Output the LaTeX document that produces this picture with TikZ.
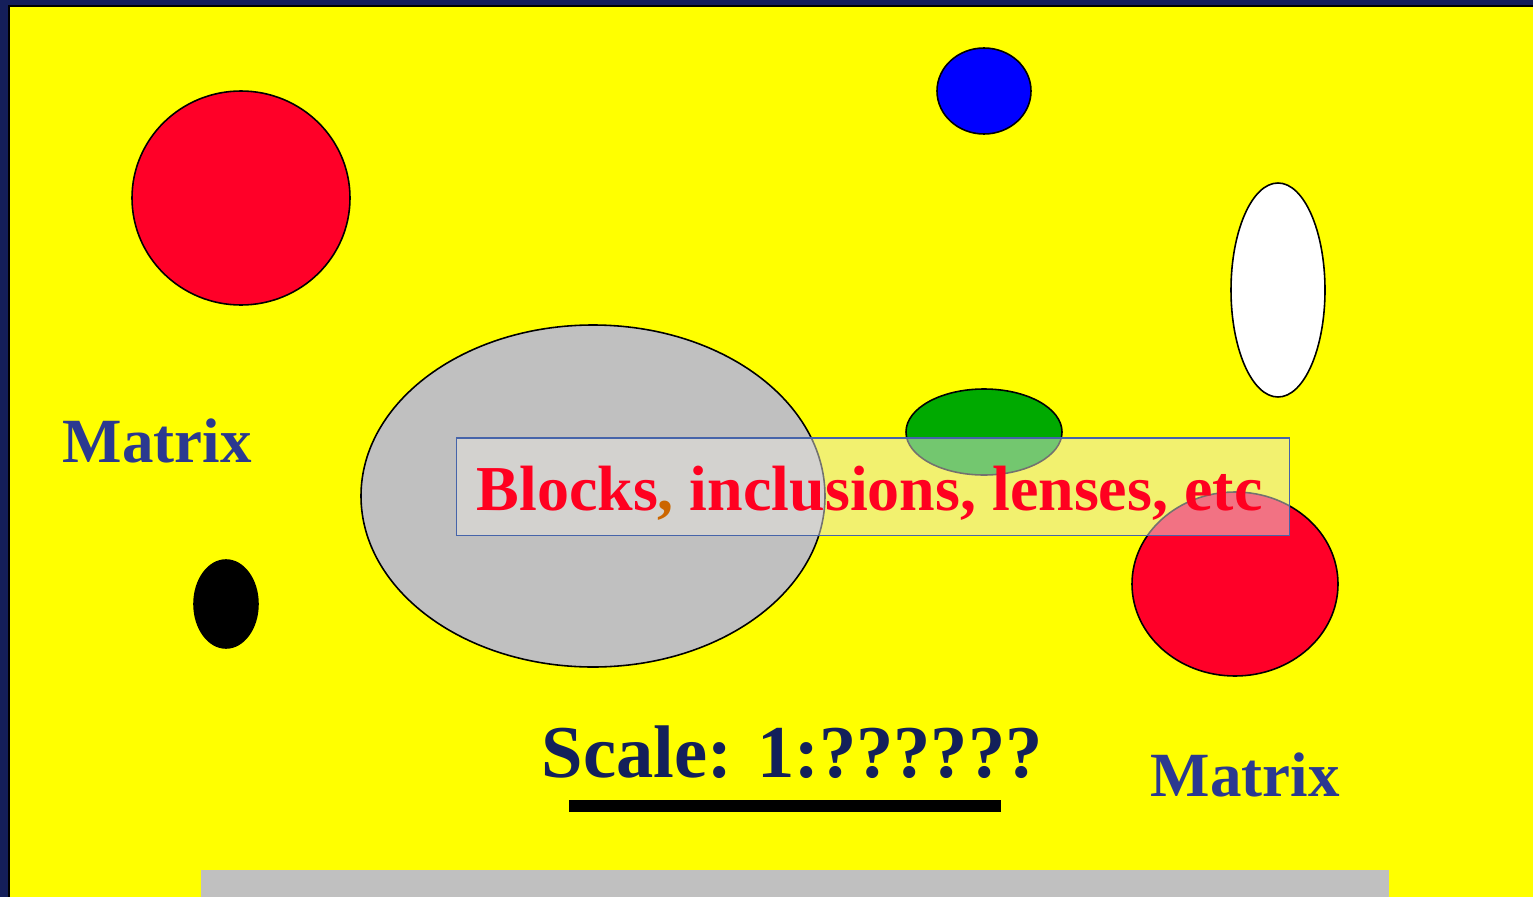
\documentclass[tikz,border=0pt]{standalone}
\usepackage{fontspec}
\setmainfont{Liberation Serif}
\usetikzlibrary{positioning}
\definecolor{slidenavy}{RGB}{20,30,90}
\definecolor{slideyellow}{RGB}{255,255,0}
\definecolor{matrixblue}{RGB}{43,57,144}
\definecolor{scalenavy}{RGB}{19,32,90}
\definecolor{grainred}{RGB}{255,0,40}
\definecolor{grainblue}{RGB}{0,0,255}
\definecolor{graingreen}{RGB}{0,170,0}
\definecolor{graingray}{RGB}{192,192,192}
\definecolor{labelred}{RGB}{255,0,32}
\definecolor{commaorange}{RGB}{204,102,0}
\definecolor{boxfill}{RGB}{230,229,222}
\definecolor{boxedge}{RGB}{70,100,170}
\tikzset{
  grain/.style={draw=black, line width=0.45pt},
  matrixlabel/.style={font=\fontsize{17.9}{20}\selectfont\bfseries, text=matrixblue, inner sep=0pt, anchor=base west},
  scalelabel/.style={font=\fontsize{21.2}{24}\selectfont\bfseries, text=scalenavy, inner sep=0pt, anchor=base west},
  labelbox/.style={draw=boxedge, line width=0.3pt, fill=boxfill, fill opacity=0.5, text opacity=1, text=labelred,
    font=\fontsize{18.2}{20}\selectfont\bfseries, text height=0.6cm, text depth=0.13cm,
    minimum width=8.32cm, minimum height=0.97cm, inner sep=0pt}
}
\begin{document}
\begin{tikzpicture}[x=0.01cm, y=-0.01cm]
  \useasboundingbox (0,0) rectangle (1533,897);
  \clip (0,0) rectangle (1533,897);
  % slide frame
  \fill[slidenavy] (0,0) rectangle (1533,897);
  \draw[fill=slideyellow, line width=0.6pt] (9,6) rectangle (1560,920);
  % grains in the matrix
  \draw[grain, fill=grainred] (241,198) ellipse [x radius=109, y radius=107];
  \draw[grain, fill=grainblue] (984,91) ellipse [x radius=47, y radius=43];
  \draw[grain, fill=white] (1278,290) ellipse [x radius=47, y radius=107];
  \draw[grain, fill=graingray] (593,496) ellipse [x radius=232, y radius=171];
  \draw[grain, fill=graingreen] (984,432) ellipse [x radius=78, y radius=43];
  \draw[grain, fill=grainred] (1235,584) ellipse [x radius=103, y radius=92];
  \draw[grain, fill=black] (226,604) ellipse [x radius=32, y radius=44];
  % labels
  \node[labelbox] (blocks) at (873,486.5) {Blocks{\color{commaorange},} inclusions, lenses, etc\hspace*{0.07cm}};
  \node[matrixlabel] (matrixleft) at (62,462) {Matrix};
  \node[matrixlabel] (matrixright) at (1150,796) {Matrix};
  \node[scalelabel] (scale) at (541,777) {Scale: 1:??????};
  \fill[black] (569,800) rectangle (1001,812);
  \fill[graingray] (201,870) rectangle (1389,900);
\end{tikzpicture}
\end{document}
